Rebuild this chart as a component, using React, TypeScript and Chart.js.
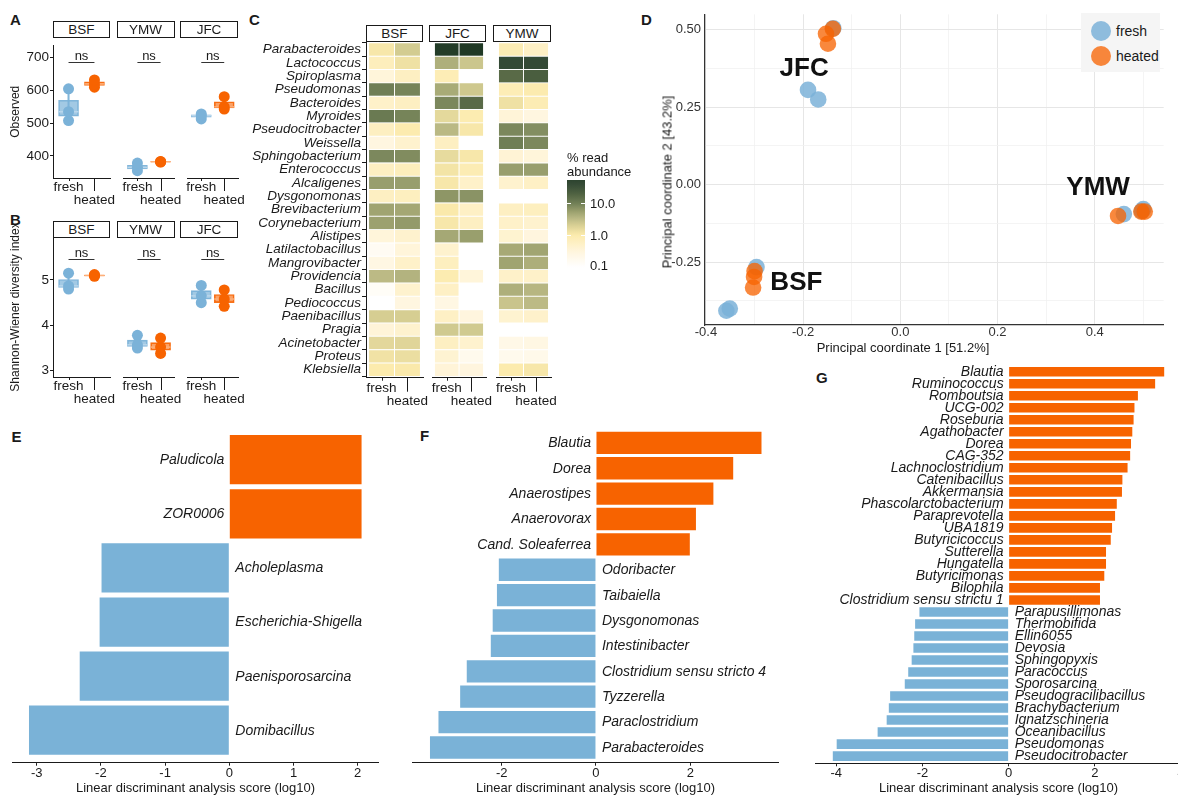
import React, { useEffect, useRef } from 'react';
import { Chart, registerables } from 'chart.js';

Chart.register(...registerables);

const FONT = "'Liberation Sans', Arial, Helvetica, sans-serif";
Chart.defaults.font.family = FONT;
Chart.defaults.color = '#1a1a1a';

const INK = '#1a1a1a';
const BLUE = '#7BB2D8';
const ORANGE = '#F76300';
const BAR_BLUE = '#7AB2D7';
const BOX_BLUE = 'rgba(123,178,216,0.7)';
const BOX_ORANGE = 'rgba(247,99,0,0.6)';
const LINE_BLUE = 'rgba(123,178,216,0.95)';
const LINE_ORANGE = 'rgba(247,99,0,0.9)';
const MED_BLUE = '#BAD7EC';
const MED_ORANGE = '#FDB07A';

// ================= DATA =================
// Panels A & B
const abSites = ['BSF', 'YMW', 'JFC'];
const conditions = ['fresh', 'heated'];
const observedFresh = [[508, 535, 605], [355, 365, 378], [513, 523, 528]];
const observedHeated = [[610, 620, 632], [381, 382, 383], [543, 550, 581]];
const observedTicks = [400, 500, 600, 700];
const shannonFresh = [[4.8, 4.87, 5.15], [3.5, 3.57, 3.78], [4.5, 4.65, 4.88]];
const shannonHeated = [[5.08, 5.1, 5.12], [3.38, 3.52, 3.72], [4.42, 4.58, 4.78]];
const shannonTicks = [3, 4, 5];
const testLabels = ['ns', 'ns', 'ns'];

// Panel C
const heatSites = ['BSF', 'JFC', 'YMW'];
const genera = ['Parabacteroides', 'Lactococcus', 'Spiroplasma', 'Pseudomonas', 'Bacteroides', 'Myroides',
  'Pseudocitrobacter', 'Weissella', 'Sphingobacterium', 'Enterococcus', 'Alcaligenes', 'Dysgonomonas',
  'Brevibacterium', 'Corynebacterium', 'Alistipes', 'Latilactobacillus', 'Mangrovibacter', 'Providencia',
  'Bacillus', 'Pediococcus', 'Paenibacillus', 'Pragia', 'Acinetobacter', 'Proteus', 'Klebsiella'];
const bsfFresh = [1.1, 0.7, 0.33, 10, 0.5, 11, 0.62, 0.28, 8.3, 0.6, 5.6, 0.6, 5.0, 5.3, 0.33, 0.15, 0.25, 3.2, 0.13, null, 2.1, 0.35, 1.65, 1.25, 1.0];
const bsfHeated = [2.2, 1.3, 0.6, 9, 0.6, 9, 0.95, 0.45, 7.8, 0.7, 5.6, 0.65, 4.7, 6.0, 0.45, 0.33, 0.5, 3.7, 0.45, 0.28, 2.1, 0.45, 1.75, 1.4, 1.05];
const jfcFresh = [75, 4.0, 0.8, 4.4, 8.5, 1.6, 3.3, 0.6, 1.5, 1.2, 1.1, 6.5, 1.05, 1.1, 4.6, 0.45, 0.65, 0.9, 0.55, 0.25, 0.55, 2.3, 0.6, 0.4, 0.35];
const jfcHeated = [85, 2.5, null, 2.4, 16, 0.9, 1.1, null, 1.1, 0.85, 0.5, 6.8, 0.55, 0.6, 5.5, null, null, 0.33, null, null, 0.3, 2.3, 0.45, 0.18, 0.3];
const ymwFresh = [0.85, 40, 16, 0.8, 1.3, 0.35, 8.5, 10, 0.38, 5.6, 0.45, null, 0.6, 0.5, 0.42, 4.5, 5.0, 0.5, 4.0, 2.6, 0.42, null, 0.22, 0.18, 1.0];
const ymwHeated = [0.55, 40, 22, 0.95, 0.85, 0.28, 7.5, 8.3, 0.33, 5.6, 0.55, null, 0.65, 0.45, 0.3, 4.9, 4.1, 0.5, 3.5, 3.2, 0.48, null, 0.25, 0.2, 1.1];
const heatLegendValues = [10, 1, 0.1];
const heatLegendLabels = ['10.0', '1.0', '0.1'];

// Panel D
const pcoaFreshX = [-0.138, -0.19, -0.169, 0.46, 0.5, 0.497, -0.296, -0.358, -0.351];
const pcoaFreshY = [0.505, 0.306, 0.275, -0.095, -0.079, -0.085, -0.266, -0.407, -0.4];
const pcoaHeatedX = [-0.153, -0.139, -0.149, 0.448, 0.496, 0.503, -0.3, -0.301, -0.303];
const pcoaHeatedY = [0.487, 0.503, 0.455, -0.101, -0.087, -0.087, -0.279, -0.298, -0.332];
const clusterNames = ['JFC', 'YMW', 'BSF'];
const clusterX = [-0.198, 0.407, -0.214];
const clusterY = [0.375, -0.01, -0.318];
const pcoaXTicks = [-0.4, -0.3, -0.2, -0.1, 0, 0.1, 0.2, 0.3, 0.4, 0.5];
const pcoaYTicks = [-0.375, -0.25, -0.125, 0, 0.125, 0.25, 0.375, 0.5];

// Panels E, F, G
const eGenera = ['Paludicola', 'ZOR0006', 'Acholeplasma', 'Escherichia-Shigella', 'Paenisporosarcina', 'Domibacillus'];
const eScores = [2.06, 2.06, -1.99, -2.02, -2.33, -3.12];
const eTicks = [-3, -2, -1, 0, 1, 2];
const fGenera = ['Blautia', 'Dorea', 'Anaerostipes', 'Anaerovorax', 'Cand. Soleaferrea', 'Odoribacter', 'Taibaiella',
  'Dysgonomonas', 'Intestinibacter', 'Clostridium sensu stricto 4', 'Tyzzerella', 'Paraclostridium', 'Parabacteroides'];
const fScores = [3.51, 2.91, 2.49, 2.12, 1.99, -2.06, -2.1, -2.19, -2.23, -2.74, -2.88, -3.34, -3.52];
const fTicks = [-2, 0, 2];
const gGenera = ['Blautia', 'Ruminococcus', 'Romboutsia', 'UCG-002', 'Roseburia', 'Agathobacter', 'Dorea', 'CAG-352',
  'Lachnoclostridium', 'Catenibacillus', 'Akkermansia', 'Phascolarctobacterium', 'Paraprevotella', 'UBA1819',
  'Butyricicoccus', 'Sutterella', 'Hungatella', 'Butyricimonas', 'Bilophila', 'Clostridium sensu strictu 1',
  'Parapusillimonas', 'Thermobifida', 'Ellin6055', 'Devosia', 'Sphingopyxis', 'Paracoccus', 'Sporosarcina',
  'Pseudogracilibacillus', 'Brachybacterium', 'Ignatzschineria', 'Oceanibacillus', 'Pseudomonas', 'Pseudocitrobacter'];
const gScores = [3.61, 3.4, 3.0, 2.92, 2.9, 2.87, 2.84, 2.82, 2.76, 2.64, 2.63, 2.51, 2.47, 2.4, 2.37, 2.26, 2.26, 2.22, 2.12, 2.12,
  -2.07, -2.17, -2.19, -2.21, -2.25, -2.33, -2.41, -2.75, -2.78, -2.83, -3.04, -3.99, -4.08];
const gTicks = [-4, -2, 0, 2, 4];
const ldaTitle = 'Linear discriminant analysis score (log10)';

// ================= HELPERS =================
const HEAT_T = [-1, -0.5, 0, 0.3, 0.5, 0.7, 1, 1.3, 1.6, 2];
const HEAT_C = ['#FFFFFF', '#FFF5DC', '#FCEBAD', '#D9D094', '#BDBB86', '#A0A471', '#6F7E55', '#4E6141', '#344A35', '#1C3522'];
function hexToRgb(h: string) {
  const n = parseInt(h.slice(1), 16);
  return [(n >> 16) & 255, (n >> 8) & 255, n & 255];
}
function heatColorT(tIn: number) {
  const t = Math.max(-1, Math.min(2, tIn));
  let i = 0;
  while (i < HEAT_T.length - 2 && t > HEAT_T[i + 1]) i++;
  const f = (t - HEAT_T[i]) / (HEAT_T[i + 1] - HEAT_T[i]);
  const a = hexToRgb(HEAT_C[i]);
  const b = hexToRgb(HEAT_C[i + 1]);
  return `rgb(${a.map((x, k) => Math.round(x + (b[k] - x) * f)).join(',')})`;
}
const heatColor = (v: number) => heatColorT(Math.log10(v));

function quantile(s: number[], p: number) {
  const h = (s.length - 1) * p;
  const lo = Math.floor(h);
  const hi = Math.ceil(h);
  return s[lo] + (h - lo) * (s[hi] - s[lo]);
}
function boxStats(vals: number[]) {
  const s = [...vals].sort((a, b) => a - b);
  const q1 = quantile(s, 0.25);
  const q3 = quantile(s, 0.75);
  const iqr = q3 - q1;
  const inside = s.filter(v => v >= q1 - 1.5 * iqr && v <= q3 + 1.5 * iqr);
  return { q1, q3, med: quantile(s, 0.5), lo: inside[0], hi: inside[inside.length - 1] };
}

function geo(L: number, T: number, R: number, B: number, pl: number, pt: number, pr: number, pb: number) {
  const left = Math.floor(L - pl);
  const top = Math.floor(T - pt);
  const width = Math.ceil(R + pr - left);
  const height = Math.ceil(B + pb - top);
  return { left, top, width, height, pl: L - left, pt: T - top, pr: left + width - R, pb: top + height - B };
}
type Geo = ReturnType<typeof geo>;

const fitX = (h: number) => (s: any) => { s.height = h; s.paddingLeft = 0; s.paddingRight = 0; };
const fitY = (w: number) => (s: any) => { s.width = w; s.paddingTop = 0; s.paddingBottom = 0; };
const ggDiscrete = (s: any) => {
  const n = s.getLabels().length;
  s._startValue = -0.6;
  s._valueRange = n - 1 + 1.2;
};
const setTicks = (vals: number[]) => (s: any) => { s.ticks = vals.map(v => ({ value: v })); };

function base(g: Geo, yShown: boolean) {
  return {
    responsive: false,
    maintainAspectRatio: false,
    animation: false,
    devicePixelRatio: 1,
    events: [],
    layout: { padding: { left: yShown ? 0 : g.pl, top: g.pt, right: g.pr, bottom: 0 } },
  };
}

// ---------- plugins ----------
const dodgeTicksPlugin = {
  id: 'dodgeTicks',
  afterDraw(chart: any, _a: any, opts: any) {
    const s = chart.scales.x;
    const ctx = chart.ctx;
    ctx.save();
    ctx.strokeStyle = INK;
    ctx.lineWidth = 1;
    s.ticks.forEach((_t: any, i: number) => {
      const px = Math.round(s.getPixelForTick(i)) + 0.5;
      ctx.beginPath();
      ctx.moveTo(px, s.top);
      ctx.lineTo(px, s.top + (i % 2 ? opts.long : opts.short));
      ctx.stroke();
    });
    ctx.restore();
  },
};

const nsPlugin = {
  id: 'nsBracket',
  afterDatasetsDraw(chart: any, _a: any, opts: any) {
    const { ctx } = chart;
    const xs = chart.scales.x;
    const ys = chart.scales.y;
    const x0 = xs.getPixelForValue(0);
    const x1 = xs.getPixelForValue(1);
    const py = Math.round(ys.getPixelForValue(opts.y)) + 0.5;
    ctx.save();
    ctx.strokeStyle = '#333';
    ctx.lineWidth = 1;
    ctx.beginPath();
    ctx.moveTo(x0, py);
    ctx.lineTo(x1, py);
    ctx.stroke();
    ctx.fillStyle = INK;
    ctx.font = `13px ${FONT}`;
    ctx.textAlign = 'center';
    ctx.textBaseline = 'alphabetic';
    ctx.fillText(opts.text, (x0 + x1) / 2, py - 2.5);
    ctx.restore();
  },
};

const clusterPlugin = {
  id: 'clusterLabels',
  afterDatasetsDraw(chart: any, _a: any, opts: any) {
    const { ctx } = chart;
    const xs = chart.scales.x;
    const ys = chart.scales.y;
    ctx.save();
    ctx.fillStyle = '#111';
    ctx.font = `bold 26px ${FONT}`;
    ctx.textAlign = 'center';
    ctx.textBaseline = 'middle';
    opts.names.forEach((n: string, i: number) => {
      ctx.fillText(n, xs.getPixelForValue(opts.xs[i]), ys.getPixelForValue(opts.ys[i]));
    });
    ctx.restore();
  },
};

const ldaLabelPlugin = {
  id: 'ldaLabels',
  afterDatasetsDraw(chart: any, _a: any, opts: any) {
    const { ctx } = chart;
    const xs = chart.scales.x;
    const ys = chart.scales.y;
    const labels = chart.data.labels;
    const vals = chart.data.datasets[0].data;
    const x0 = xs.getPixelForValue(0);
    ctx.save();
    ctx.font = `italic ${opts.size}px ${FONT}`;
    ctx.fillStyle = INK;
    ctx.textBaseline = 'middle';
    labels.forEach((lab: string, i: number) => {
      const y = ys.getPixelForValue(i) + 0.5;
      if (vals[i] >= 0) {
        ctx.textAlign = 'right';
        ctx.fillText(lab, x0 - opts.gapPos, y);
      } else {
        ctx.textAlign = 'left';
        ctx.fillText(lab, x0 + opts.gapNeg, y);
      }
    });
    ctx.restore();
  },
};

// ---------- config builders ----------
function boxFacet(g: Geo, fresh: number[], heated: number[], yMin: number, yMax: number, yTicks: number[],
  nsY: number, nsText: string, showY: boolean, yTitle: string) {
  const st = [fresh, heated].map(boxStats);
  return {
    type: 'bar',
    data: {
      labels: conditions,
      datasets: [
        { type: 'line', data: fresh.map(v => ({ x: conditions[0], y: v })), showLine: false, pointRadius: 5.5,
          pointBackgroundColor: BLUE, pointBorderWidth: 0, clip: false, order: 0 },
        { type: 'line', data: heated.map(v => ({ x: conditions[1], y: v })), showLine: false, pointRadius: 5.5,
          pointBackgroundColor: ORANGE, pointBorderWidth: 0, clip: false, order: 0 },
        { type: 'line', data: st.map((s, i) => ({ x: conditions[i], y: s.med })), showLine: false, pointStyle: 'line',
          pointRadius: 10, pointBorderColor: [MED_BLUE, MED_ORANGE], pointBorderWidth: 1.5, clip: false, order: 1 },
        { type: 'bar', data: st.map(s => [s.q1, s.q3]), backgroundColor: [BOX_BLUE, BOX_ORANGE],
          borderColor: [LINE_BLUE, LINE_ORANGE], borderWidth: 1, borderSkipped: false, barThickness: 20, grouped: false, order: 2 },
        { type: 'bar', data: st.map(s => [s.lo, s.hi]), backgroundColor: [LINE_BLUE, LINE_ORANGE], barThickness: 1.4,
          grouped: false, order: 3 },
      ],
    },
    options: {
      ...base(g, showY),
      scales: {
        x: {
          type: 'category', offset: true, afterBuildTicks: ggDiscrete,
          ticks: { padding: 2.5, autoSkip: false, maxRotation: 0, minRotation: 0, color: INK,
            font: { size: 13.5, lineHeight: 1 }, callback: (_v: any, i: number) => (i === 0 ? conditions[0] : ['', conditions[1]]) },
          grid: { display: true, drawOnChartArea: false, drawTicks: false },
          border: { display: true, color: INK, width: 1 },
          afterFit: fitX(g.pb),
        },
        y: {
          type: 'linear', min: yMin, max: yMax, display: showY, afterBuildTicks: setTicks(yTicks),
          ticks: { padding: 1, color: INK, font: { size: 13.5 } },
          grid: { drawOnChartArea: false, drawTicks: true, tickLength: 3, tickColor: INK },
          border: { display: true, color: INK, width: 1 },
          title: { display: !!yTitle, text: yTitle, color: INK, font: { size: 12 }, padding: { top: 8.5, bottom: 0 } },
          afterFit: fitY(g.pl),
        },
      },
      plugins: {
        legend: { display: false }, tooltip: { enabled: false },
        dodgeTicks: { short: 3, long: 13 },
        nsBracket: { y: nsY, text: nsText },
      },
    },
    plugins: [dodgeTicksPlugin, nsPlugin],
  };
}

function heatFacet(g: Geo, freshVals: (number | null)[], heatedVals: (number | null)[], showY: boolean) {
  const tiles = (vals: (number | null)[], span: number[]) => ({
    data: vals.map(v => (v == null ? null : span)),
    backgroundColor: vals.map(v => (v == null ? 'rgba(0,0,0,0)' : heatColor(v))),
    borderColor: '#ffffff', borderWidth: 0.8, borderSkipped: false,
    barPercentage: 1, categoryPercentage: 1, grouped: false,
  });
  return {
    type: 'bar',
    data: { labels: genera, datasets: [tiles(freshVals, [0, 1]), tiles(heatedVals, [1, 2])] },
    options: {
      ...base(g, showY),
      indexAxis: 'y',
      scales: {
        x: {
          type: 'linear', min: -0.1, max: 2.1, afterBuildTicks: setTicks([0.5, 1.5]),
          ticks: { padding: 3.5, autoSkip: false, maxRotation: 0, minRotation: 0, color: INK, font: { size: 13.5, lineHeight: 1 },
            callback: (_v: any, i: number) => (i === 0 ? conditions[0] : ['', conditions[1]]) },
          grid: { display: true, drawOnChartArea: false, drawTicks: false },
          border: { display: true, color: INK, width: 1 },
          afterFit: fitX(g.pb),
        },
        y: {
          type: 'category', display: showY, afterBuildTicks: ggDiscrete,
          ticks: { padding: 1, autoSkip: false, color: INK, font: { size: 13.5, style: 'italic', lineHeight: 1 } },
          grid: { drawOnChartArea: false, drawTicks: true, tickLength: 4, tickColor: INK },
          border: { display: true, color: INK, width: 1 },
          afterFit: fitY(g.pl),
        },
      },
      plugins: { legend: { display: false }, tooltip: { enabled: false }, dodgeTicks: { short: 3, long: 14 } },
    },
    plugins: [dodgeTicksPlugin],
  };
}

function pcoaConfig(g: Geo) {
  const isMajorX = (v: number) => Math.round(v * 10) % 2 === 0;
  const isMajorY = (v: number) => Math.round(v * 8) % 2 === 0;
  return {
    type: 'scatter',
    data: {
      datasets: [
        { data: pcoaHeatedX.map((x, i) => ({ x, y: pcoaHeatedY[i] })), backgroundColor: 'rgba(247,99,0,0.76)',
          pointRadius: 8.3, borderWidth: 0, clip: false, order: 0 },
        { data: pcoaFreshX.map((x, i) => ({ x, y: pcoaFreshY[i] })), backgroundColor: 'rgba(123,178,216,0.85)',
          pointRadius: 8.3, borderWidth: 0, clip: false, order: 1 },
      ],
    },
    options: {
      ...base(g, true),
      scales: {
        x: {
          type: 'linear', min: -0.402, max: 0.542, afterBuildTicks: setTicks(pcoaXTicks),
          ticks: { padding: 0, autoSkip: false, maxRotation: 0, color: '#333', font: { size: 13 },
            callback: (v: number) => (isMajorX(v) ? v.toFixed(1) : '') },
          grid: { drawTicks: false, color: (c: any) => (isMajorX(c.tick.value) ? '#E6E6E6' : '#F1F1F1'),
            lineWidth: (c: any) => (isMajorX(c.tick.value) ? 1 : 0.8) },
          border: { display: true, color: '#333', width: 1.2 },
          afterFit: fitX(g.pb),
        },
        y: {
          type: 'linear', min: -0.453, max: 0.55, afterBuildTicks: setTicks(pcoaYTicks),
          ticks: { padding: 4, autoSkip: false, color: '#333', font: { size: 13 },
            callback: (v: number) => (isMajorY(v) ? v.toFixed(2) : '') },
          grid: { drawTicks: false, color: (c: any) => (isMajorY(c.tick.value) ? '#E6E6E6' : '#F1F1F1'),
            lineWidth: (c: any) => (isMajorY(c.tick.value) ? 1 : 0.8) },
          border: { display: true, color: '#333', width: 1.2 },
          afterFit: fitY(g.pl),
        },
      },
      plugins: {
        legend: { display: false }, tooltip: { enabled: false },
        clusterLabels: { names: clusterNames, xs: clusterX, ys: clusterY },
      },
    },
    plugins: [clusterPlugin],
  };
}

function ldaConfig(g: Geo, labels: string[], scores: number[], ticks: number[], min: number, max: number,
  barPct: number, labelSize: number) {
  return {
    type: 'bar',
    data: {
      labels,
      datasets: [{ data: scores, backgroundColor: scores.map(v => (v > 0 ? ORANGE : BAR_BLUE)),
        barPercentage: barPct, categoryPercentage: 1, borderWidth: 0 }],
    },
    options: {
      ...base(g, false),
      indexAxis: 'y',
      scales: {
        x: {
          type: 'linear', min, max, afterBuildTicks: setTicks(ticks),
          ticks: { padding: 1, autoSkip: false, maxRotation: 0, color: INK, font: { size: 13, lineHeight: 1 } },
          grid: { drawOnChartArea: false, drawTicks: true, tickLength: 3, tickColor: INK },
          border: { display: true, color: INK, width: 1.1 },
          title: { display: true, text: ldaTitle, color: INK, font: { size: 13, lineHeight: 1 }, padding: 0 },
          afterFit: fitX(g.pb),
        },
        y: { type: 'category', display: false, afterBuildTicks: ggDiscrete },
      },
      plugins: {
        legend: { display: false }, tooltip: { enabled: false },
        ldaLabels: { size: labelSize, gapPos: 5, gapNeg: 6 },
      },
    },
    plugins: [ldaLabelPlugin],
  };
}

// ---------- components ----------
function ChartCanvas({ g, build }: { g: Geo; build: () => any }) {
  const ref = useRef<HTMLCanvasElement | null>(null);
  useEffect(() => {
    if (!ref.current) return;
    const chart = new Chart(ref.current, build());
    return () => chart.destroy();
  }, []);
  return (
    <canvas ref={ref} width={g.width} height={g.height}
      style={{ position: 'absolute', left: g.left, top: g.top, width: g.width, height: g.height }} />
  );
}

function Txt({ x, y, text, size = 13, bold = false, anchor = 'left', rotate = false, color = INK }:
  { x: number; y: number; text: string; size?: number; bold?: boolean; anchor?: string; rotate?: boolean; color?: string }) {
  const tx = anchor === 'center' ? '-50%' : anchor === 'right' ? '-100%' : '0';
  return (
    <div style={{
      position: 'absolute', left: x, top: y, fontSize: size, lineHeight: `${size}px`, fontFamily: FONT,
      fontWeight: bold ? 700 : 400, color, whiteSpace: 'nowrap',
      transform: `translate(${tx}, -50%)${rotate ? ' rotate(-90deg)' : ''}`, transformOrigin: rotate ? 'center' : undefined,
    }}>{text}</div>
  );
}

function Strip({ x0, x1, y0, y1, text }: { x0: number; x1: number; y0: number; y1: number; text: string }) {
  return (
    <div style={{
      position: 'absolute', left: x0, top: y0, width: x1 - x0, height: y1 - y0, boxSizing: 'border-box',
      border: '1px solid #1a1a1a', background: '#fff', display: 'flex', alignItems: 'center', justifyContent: 'center',
      fontFamily: FONT, fontSize: 13.5, color: INK,
    }}>{text}</div>
  );
}

// ================= LAYOUT =================
const abX = [[53, 110], [116.5, 174.5], [180, 238]];
const heatX = [[366, 423], [429, 486], [493, 551]];
const facetObs = abX.map(([l, r], i) => geo(l, 37, r, 178, i === 0 ? 53 : 4, 3, 30, 33));
const facetSha = abX.map(([l, r], i) => geo(l, 237, r, 377, i === 0 ? 53 : 4, 24, 30, 33));
const facetHeat = heatX.map(([l, r], i) => geo(l, 41.5, r, 377.7, i === 0 ? 116 : 3, 2, 25, 32));
const heatFresh = [bsfFresh, jfcFresh, ymwFresh];
const heatHeated = [bsfHeated, jfcHeated, ymwHeated];
const gD = geo(705, 12, 1166, 325, 40, 6, 6, 18);
const gE = geo(13, 427.2, 378, 762.7, 13, 4, 10, 32.3);
const gF = geo(413, 427.6, 778, 762.7, 4, 4, 20, 32.3);
const gG = geo(816, 364.5, 1181, 763.3, 4, 4, 20, 31.7);

// colour bar (legend of C)
const CB_TOP = 180;
const CB_BOTTOM = 268;
const CB_Y1 = 235; // pixel of value 1.0
const CB_DECADE = 32; // pixels per decade
const cbY = (v: number) => CB_Y1 - Math.log10(v) * CB_DECADE;
function colorbarGradient() {
  const stops: string[] = [];
  for (let y = CB_TOP; y <= CB_BOTTOM; y += 2) {
    const t = (CB_Y1 - y) / CB_DECADE;
    stops.push(`${heatColorT(t)} ${(((y - CB_TOP) / (CB_BOTTOM - CB_TOP)) * 100).toFixed(1)}%`);
  }
  return `linear-gradient(to bottom, ${stops.join(', ')})`;
}

export default function App() {
  return (
    <div style={{ position: 'absolute', left: 0, top: 0, width: 1178, height: 795, overflow: 'hidden', background: '#fff', fontFamily: FONT }}>
      {/* Panel letters */}
      <Txt x={10} y={18.5} text="A" size={15} bold />
      <Txt x={10} y={219} text="B" size={15} bold />
      <Txt x={249} y={18.5} text="C" size={15} bold />
      <Txt x={641} y={18.5} text="D" size={15} bold />
      <Txt x={11.5} y={435.5} text="E" size={15} bold />
      <Txt x={420} y={435} text="F" size={15} bold />
      <Txt x={816} y={376.5} text="G" size={15} bold />

      {/* A */}
      {abSites.map((s, i) => (
        <ChartCanvas key={'a' + s} g={facetObs[i]}
          build={() => boxFacet(facetObs[i], observedFresh[i], observedHeated[i], 332.5, 737.3, observedTicks, 688, testLabels[i], i === 0, i === 0 ? 'Observed' : '')} />
      ))}
      {abSites.map((s, i) => <Strip key={'as' + s} x0={abX[i][0]} x1={abX[i][1]} y0={20.5} y1={37.5} text={s} />)}

      {/* B */}
      {abSites.map((s, i) => (
        <ChartCanvas key={'b' + s} g={facetSha[i]}
          build={() => boxFacet(facetSha[i], shannonFresh[i], shannonHeated[i], 2.861, 5.948, shannonTicks, 5.46, testLabels[i], i === 0, i === 0 ? 'Shannon-Wiener diversity index' : '')} />
      ))}
      {abSites.map((s, i) => <Strip key={'bs' + s} x0={abX[i][0]} x1={abX[i][1]} y0={221} y1={237.5} text={s} />)}

      {/* C */}
      {heatSites.map((s, i) => (
        <ChartCanvas key={'c' + s} g={facetHeat[i]} build={() => heatFacet(facetHeat[i], heatFresh[i], heatHeated[i], i === 0)} />
      ))}
      {heatSites.map((s, i) => <Strip key={'cs' + s} x0={heatX[i][0]} x1={heatX[i][1]} y0={25} y1={42} text={s} />)}
      <Txt x={567} y={157} text="% read" size={13} />
      <Txt x={567} y={170.5} text="abundance" size={13} />
      <div style={{ position: 'absolute', left: 567, top: CB_TOP, width: 18, height: CB_BOTTOM - CB_TOP, background: colorbarGradient() }} />
      {heatLegendValues.slice(0, 2).map(v => (
        <React.Fragment key={'cbt' + v}>
          <div style={{ position: 'absolute', left: 567, top: cbY(v) - 0.5, width: 4, height: 1, background: '#fff' }} />
          <div style={{ position: 'absolute', left: 581, top: cbY(v) - 0.5, width: 4, height: 1, background: '#fff' }} />
        </React.Fragment>
      ))}
      {heatLegendValues.map((v, i) => <Txt key={'cbl' + v} x={590} y={Math.min(cbY(v), 265)} text={heatLegendLabels[i]} size={13} />)}

      {/* D */}
      <ChartCanvas g={gD} build={() => pcoaConfig(gD)} />
      <Txt x={903} y={346.5} text="Principal coordinate 1 [51.2%]" size={13} anchor="center" />
      <Txt x={666.5} y={182} text="Principal coordinate 2 [43.2%]" size={13} anchor="center" rotate />
      <div style={{ position: 'absolute', left: 1081, top: 13, width: 79, height: 59, background: '#F5F5F5' }} />
      <div style={{ position: 'absolute', left: 1091, top: 21, width: 20, height: 20, borderRadius: 10, background: 'rgba(123,178,216,0.85)' }} />
      <div style={{ position: 'absolute', left: 1091, top: 45.5, width: 20, height: 20, borderRadius: 10, background: 'rgba(247,99,0,0.76)' }} />
      <Txt x={1116} y={31} text={conditions[0]} size={14} />
      <Txt x={1116} y={55.5} text={conditions[1]} size={14} />

      {/* E, F, G */}
      <ChartCanvas g={gE} build={() => ldaConfig(gE, eGenera, eScores, eTicks, -3.369, 2.316, 0.91, 14)} />
      <ChartCanvas g={gF} build={() => ldaConfig(gF, fGenera, fScores, fTicks, -3.88, 3.86, 0.88, 14)} />
      <ChartCanvas g={gG} build={() => ldaConfig(gG, gGenera, gScores, gTicks, -4.47, 4.0, 0.8, 14)} />
    </div>
  );
}
